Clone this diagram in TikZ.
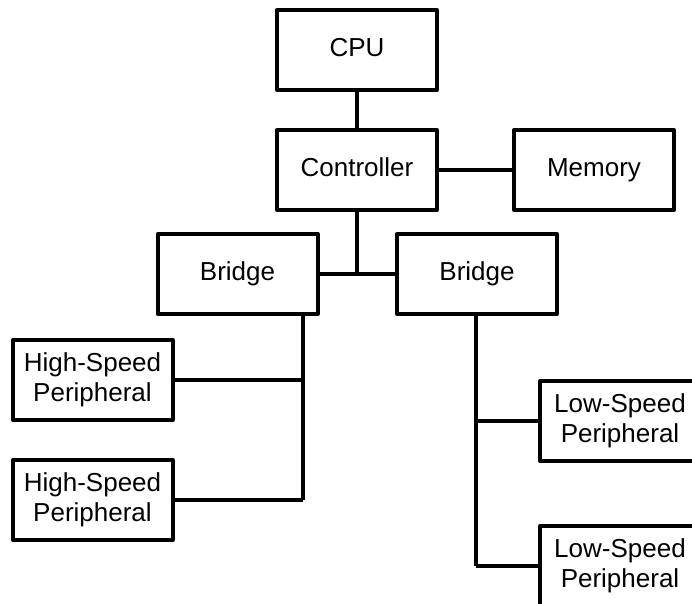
\documentclass[tikz,border=0pt]{standalone}
\usepackage{fontspec}
\setmainfont{Liberation Sans}
\begin{document}
\begin{tikzpicture}[x=0.75pt,y=-0.75pt,
  blk/.style={draw=black, line width=3pt, line join=round, rectangle,
    minimum width=120pt, minimum height=60pt, inner sep=0pt, align=center,
    font=\fontsize{19.5}{22.5}\selectfont},
  one/.style={blk, text height=14pt, text depth=4pt},
  wire/.style={draw=black, line width=3pt}]
\useasboundingbox (0,0) rectangle (692,603);
\clip (0,0) rectangle (692,603);
\node[one] (cpu) at (357,50) {CPU};
\node[one] (ctl) at (357,170) {Controller};
\node[one] (mem) at (594,170) {Memory};
\node[one] (lb) at (237.5,274) {Bridge};
\node[one] (rb) at (477,274) {Bridge};
\node[blk] (hs1) at (92.5,380) {High-Speed\\Peripheral};
\node[blk] (hs2) at (92.5,500) {High-Speed\\Peripheral};
\node[blk] (ls1) at (620,421) {Low-Speed\\Peripheral};
\node[blk] (ls2) at (620,566) {Low-Speed\\Peripheral};
\coordinate (lv) at (303,500);
\coordinate (rv) at (476,566);
\draw[wire] (cpu.south) -- (ctl.north);
\draw[wire] (ctl.east) -- (mem.west);
\draw[wire] (lb.east) -- (rb.west);
\draw[wire] (ctl.south) -- (ctl.south |- lb.east);
\draw[wire] (lb.south -| lv) -- (lv);
\draw[wire] (hs1.east) -- (hs1.east -| lv);
\draw[wire] (hs2.east) -- (lv);
\draw[wire] (rb.south -| rv) -- (rv);
\draw[wire] (ls1.west) -- (ls1.west -| rv);
\draw[wire] (ls2.west) -- (rv);
\end{tikzpicture}
\end{document}
